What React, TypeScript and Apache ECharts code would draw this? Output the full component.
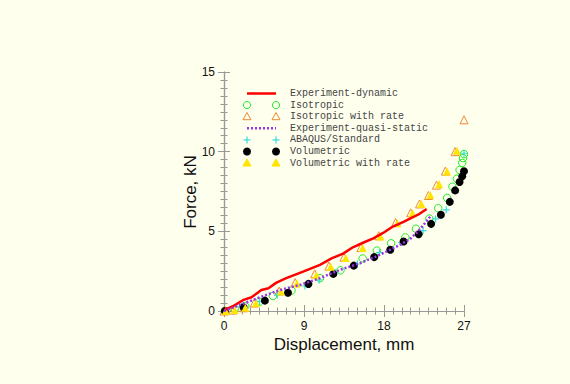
import React, { useEffect, useRef } from "react";
import * as echarts from "echarts";

// ---- data (displacement mm, force kN) ----
const expDynamic: [number, number][] = [
  [0, 0.05], [1.0, 0.3], [2.2, 0.7], [3.1, 0.86], [4.2, 1.32], [5.0, 1.43], [5.9, 1.78],
  [7.0, 2.06], [8.9, 2.47], [10.8, 2.9], [12.1, 3.3], [13.4, 3.6], [14.5, 4.0], [15.7, 4.3],
  [16.8, 4.56], [17.9, 4.9], [19.0, 5.3], [20.2, 5.6], [21.3, 5.9], [22.0, 6.1], [22.8, 6.4],
];
const isotropic: [number, number][] = [
  [0.1, 0], [1.2, 0.15], [2.4, 0.3], [4.0, 0.58], [5.5, 0.94], [7.6, 1.28], [10.8, 2.06],
  [13.1, 2.55], [15.6, 3.3], [17.2, 3.79], [18.8, 4.25], [20.4, 4.62], [21.6, 5.16],
  [23.1, 5.8], [24.1, 6.45], [25.1, 7.1], [25.7, 7.8], [26.2, 8.3], [26.5, 8.85],
  [26.8, 9.3], [26.9, 9.6], [27.0, 9.85],
];
const isotropicRate: [number, number][] = [
  [0, 0], [1.0, 0.06], [2.2, 0.2], [3.4, 0.5], [6.2, 1.25], [8.0, 1.78], [10.2, 2.33],
  [11.8, 2.82], [13.5, 3.38], [15.4, 3.98], [17.4, 4.72], [19.3, 5.55], [21.0, 6.16],
  [22.0, 6.72], [23.0, 7.25], [23.9, 7.9], [24.9, 8.78], [26.0, 10.0], [27.0, 12.0],
];
const expQuasiStatic: [number, number][] = [
  [0, 0], [1.8, 0.38], [4.05, 0.86], [6.3, 1.32], [8.55, 1.64], [10.8, 2.06], [13.05, 2.58],
  [15.3, 3.0], [17.5, 3.52], [19.4, 4.04], [20.9, 4.5], [22.0, 5.1], [22.8, 5.65], [23.3, 6.0],
];
const abaqus: [number, number][] = [
  [0.1, 0], [2.0, 0.28], [4.0, 0.6], [6.0, 1.0], [9.1, 1.57], [10.7, 1.95], [12.5, 2.41],
  [15.0, 2.95], [17.5, 3.67], [20.0, 4.3], [22.4, 5.05], [23.8, 5.78], [25.0, 6.35], [27.0, 9.9],
];
const volumetric: [number, number][] = [
  [0.1, 0], [2.2, 0.23], [4.6, 0.65], [7.2, 1.15], [9.5, 1.7], [12.3, 2.33], [14.6, 2.85],
  [16.9, 3.38], [18.7, 3.84], [20.2, 4.36], [21.9, 4.82], [23.3, 5.47], [24.4, 6.04],
  [25.4, 6.85], [26.0, 7.57], [26.5, 8.1], [26.8, 8.45], [27.0, 8.77],
];
const volumetricRate: [number, number][] = [
  [0.2, 0], [1.2, 0.06], [2.4, 0.2], [3.6, 0.5], [6.4, 1.22], [8.2, 1.72], [10.4, 2.25],
  [12.0, 2.77], [13.7, 3.32], [15.6, 3.95], [17.6, 4.68], [19.5, 5.5], [21.2, 6.14],
  [22.2, 6.72], [23.2, 7.28], [24.2, 7.95], [25.1, 8.75], [26.2, 10.05],
];
const legendNames = [
  "Experiment-dynamic",
  "Isotropic",
  "Isotropic with rate",
  "Experiment-quasi-static",
  "ABAQUS/Standard",
  "Volumetric",
  "Volumetric with rate",
];

const BG = "#ffffee";
const RED = "#ff0000";
const GREEN = "#22ee22";
const ORANGE = "#f08a30";
const PURPLE = "#9933ee";
const CYAN = "#33dddd";
const YELLOW = "#ffe400";
const PLUS = "path://M0,5L10,5M5,0L5,10";

function legendGraphic(): any[] {
  const x1 = 247, x2 = 276, tx = 290, y0 = 93.5, dy = 11.6;
  const els: any[] = [];
  const tri = (cx: number, cy: number, fill: string, stroke: string) => ({
    type: "polygon",
    shape: { points: [[cx, cy - 4.2], [cx + 4, cy + 3], [cx - 4, cy + 3]] },
    style: { fill, stroke, lineWidth: 1 },
  });
  legendNames.forEach((name, i) => {
    const y = y0 + i * dy;
    els.push({
      type: "text", x: tx, y,
      style: { text: name, fill: "#444", fontSize: 10, fontFamily: "Liberation Mono", align: "left", verticalAlign: "middle" },
    });
    if (i === 0) {
      els.push({ type: "line", shape: { x1, y1: y, x2, y2: y }, style: { stroke: RED, lineWidth: 2.5 } });
    } else if (i === 3) {
      els.push({ type: "line", shape: { x1, y1: y, x2, y2: y }, style: { stroke: PURPLE, lineWidth: 2.5, lineDash: [2, 2] } });
    } else {
      [x1, x2].forEach((cx) => {
        if (i === 1) els.push({ type: "circle", shape: { cx, cy: y, r: 3.6 }, style: { fill: "none", stroke: GREEN, lineWidth: 1 } });
        if (i === 2) els.push(tri(cx, y, "none", ORANGE));
        if (i === 4) {
          els.push({ type: "line", shape: { x1: cx - 3.5, y1: y, x2: cx + 3.5, y2: y }, style: { stroke: CYAN, lineWidth: 1.2 } });
          els.push({ type: "line", shape: { x1: cx, y1: y - 3.5, x2: cx, y2: y + 3.5 }, style: { stroke: CYAN, lineWidth: 1.2 } });
        }
        if (i === 5) els.push({ type: "circle", shape: { cx, cy: y, r: 4 }, style: { fill: "#000" } });
        if (i === 6) els.push(tri(cx, y, YELLOW, YELLOW));
      });
    }
  });
  els.push({
    type: "text", x: 344, y: 344,
    style: { text: "Displacement, mm", fill: "#111", fontSize: 17, fontFamily: "Liberation Sans", align: "center", verticalAlign: "middle" },
  });
  els.push({
    type: "text", x: 190, y: 192, rotation: Math.PI / 2,
    style: { text: "Force, kN", fill: "#111", fontSize: 17, fontFamily: "Liberation Sans", align: "center", verticalAlign: "middle" },
  });
  return els;
}

export default function App() {
  const ref = useRef<HTMLDivElement>(null);
  useEffect(() => {
    document.body.style.margin = "0";
    document.body.style.background = BG;
    const chart = echarts.init(ref.current!, undefined, { renderer: "svg" });
    const axisCommon = {
      axisLine: { show: true, lineStyle: { color: "#999", width: 1.2 } },
      axisTick: { show: true, inside: true, length: 6, lineStyle: { color: "#999" } },
      minorTick: { show: true, length: 3.5, lineStyle: { color: "#999" } },
      splitLine: { show: false },
    };
    const labelStyle = { color: "#111", fontSize: 12, fontFamily: "Liberation Sans" };
    chart.setOption({
      animation: false,
      backgroundColor: BG,
      grid: { left: 224, right: 106, top: 72, bottom: 73 },
      xAxis: [
        { type: "value", min: 0, max: 27, interval: 9, position: "bottom", ...axisCommon, minorTick: { ...axisCommon.minorTick, splitNumber: 9 }, axisLabel: { ...labelStyle, margin: 9 } },
        { type: "value", min: 0, max: 27, interval: 9, position: "top", ...axisCommon, minorTick: { ...axisCommon.minorTick, splitNumber: 9 }, axisLabel: { show: false } },
      ],
      yAxis: [
        { type: "value", min: 0, max: 15, interval: 5, position: "left", ...axisCommon, minorTick: { ...axisCommon.minorTick, splitNumber: 10 }, axisLabel: { ...labelStyle, margin: 9 } },
        { type: "value", min: 0, max: 15, interval: 5, position: "right", ...axisCommon, minorTick: { ...axisCommon.minorTick, splitNumber: 10 }, axisLabel: { show: false } },
      ],
      series: [
        { name: legendNames[0], type: "line", data: expDynamic, showSymbol: false, lineStyle: { color: RED, width: 2.5 }, silent: true },
        { name: legendNames[1], type: "scatter", data: isotropic, symbol: "circle", symbolSize: 7.5, itemStyle: { color: "rgba(0,0,0,0)", borderColor: GREEN, borderWidth: 1, opacity: 1 }, silent: true },
        { name: legendNames[2], type: "scatter", data: isotropicRate, symbol: "triangle", symbolSize: 8, itemStyle: { color: "rgba(0,0,0,0)", borderColor: ORANGE, borderWidth: 1, opacity: 1 }, silent: true },
        { name: legendNames[3], type: "line", data: expQuasiStatic, showSymbol: false, lineStyle: { color: PURPLE, width: 2.5, type: [2, 2] }, silent: true },
        { name: legendNames[4], type: "scatter", data: abaqus, symbol: PLUS, symbolSize: 7, itemStyle: { color: "rgba(0,0,0,0)", borderColor: CYAN, borderWidth: 1.2, opacity: 1 }, silent: true },
        { name: legendNames[5], type: "scatter", data: volumetric, symbol: "circle", symbolSize: 8, itemStyle: { color: "#000", opacity: 1 }, silent: true },
        { name: legendNames[6], type: "scatter", data: volumetricRate, symbol: "triangle", symbolSize: 8, itemStyle: { color: YELLOW, opacity: 1 }, silent: true },
      ],
      graphic: legendGraphic(),
    });
    return () => chart.dispose();
  }, []);
  return <div ref={ref} style={{ width: 570, height: 384 }} />;
}
